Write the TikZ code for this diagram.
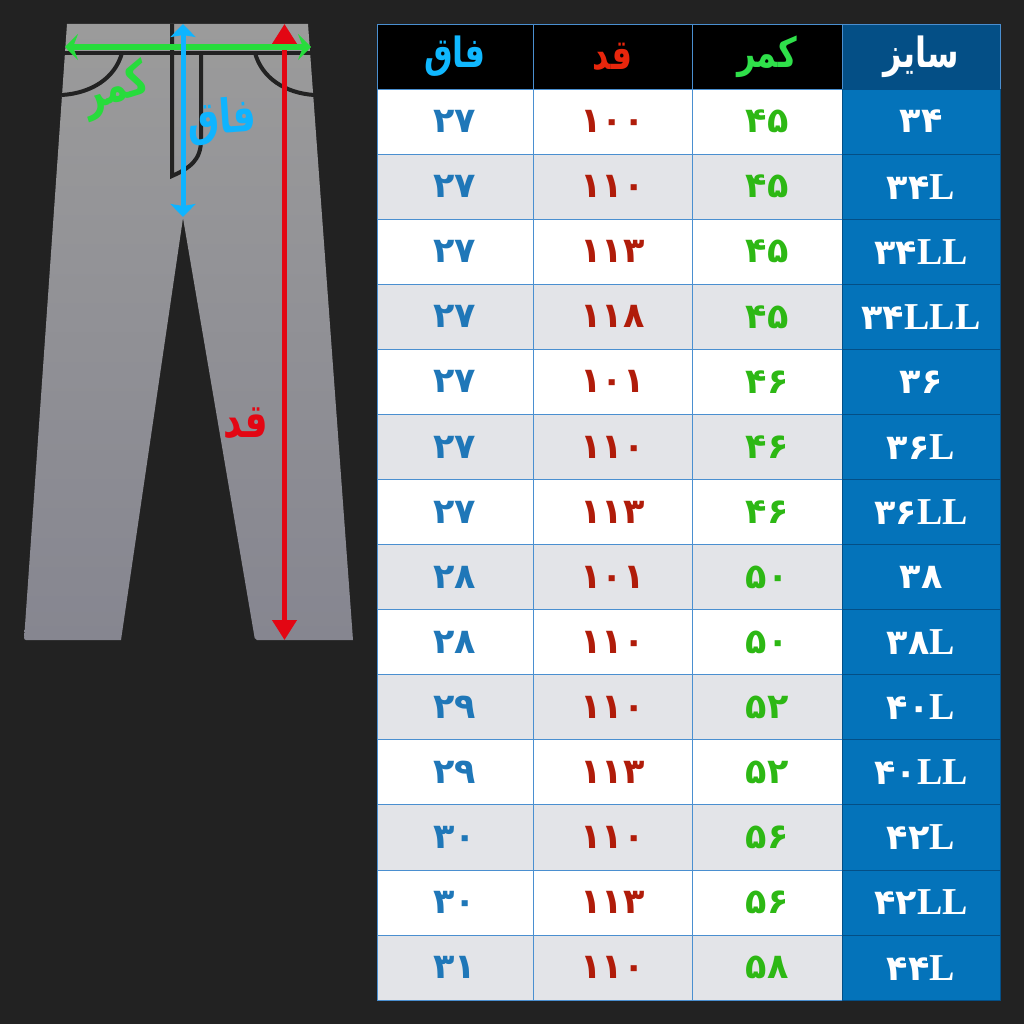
\documentclass[tikz,border=0pt]{standalone}
\usepackage{fontspec}
\usepackage{graphicx}
\usetikzlibrary{arrows.meta,calc}
\TeXXeTstate=1
\setmainfont{Liberation Serif}
\newfontfamily\arabicfont[Script=Arabic]{DejaVu Sans}
\definecolor{bgc}{HTML}{222222}
\definecolor{lineblue}{HTML}{4A8FD0}
\definecolor{sizeblue}{HTML}{0473BA}
\definecolor{headblue}{HTML}{044F86}
\definecolor{rowgray}{HTML}{E3E4E8}
\definecolor{valgreen}{HTML}{2DB814}
\definecolor{valred}{HTML}{B01C0A}
\definecolor{valblue}{HTML}{1F77B8}
\definecolor{hgreen}{HTML}{2FE04A}
\definecolor{hred}{HTML}{E8260C}
\definecolor{hblue}{HTML}{10B8FF}
\definecolor{mgreen}{HTML}{27DC3C}
\definecolor{mred}{HTML}{E30613}
\definecolor{mblue}{HTML}{0FB4FF}
\definecolor{pantstop}{HTML}{9B9B9B}
\definecolor{pantsbot}{HTML}{868690}
\tikzset{
  x=1pt,y=-1pt,
  cellbox/.style={draw=lineblue,line width=0.9pt,anchor=north west,inner sep=0pt,outer sep=0pt,font=\fontsize{35}{36}\selectfont\bfseries},
  hdrbox/.style={cellbox,fill=black,minimum height=65pt},
  sizebox/.style={cellbox,fill=sizeblue,text=white,draw=headblue},
  seam/.style={draw=bgc,line width=4pt},
  mlabel/.style={inner sep=0pt,font=\arabicfont\bfseries\fontsize{36}{38}\selectfont},
  hdrtext/.style={inner sep=0pt,font=\arabicfont\bfseries\fontsize{32}{34}\selectfont},
}
\newcommand{\fa}[1]{{\arabicfont\bfseries #1}}
\newcommand{\tallrt}[1]{\scalebox{1}[1.3]{\beginR #1\endR}}
\newcommand{\largeL}[1]{{\fontsize{38}{38}\selectfont #1}}
\begin{document}
\begin{tikzpicture}
\useasboundingbox (0,0) rectangle (1024,1024);
\fill[bgc] (0,0) rectangle (1024,1024);
% trousers
\shade[top color=pantstop,bottom color=pantsbot]
  (67,24) -- (308,24) -- (353,640) [rounded corners=2pt] -- (255,640) [sharp corners] -- (183,218) -- (121,640) [rounded corners=2pt] -- (24,640) [sharp corners] -- cycle;
\draw[seam] (62,53) -- (313,53);
\draw[seam] (122,53) .. controls (115,78) and (92,93) .. (62,95);
\draw[seam] (255,53) .. controls (262,78) and (285,93) .. (314,95);
\draw[seam,line join=miter] (172,24) -- (172,176) .. controls (190,168) and (201,160) .. (201,140) -- (201,53);
% measuring arrows
\coordinate (wl) at (65,47); \coordinate (wr) at (311,47);
\coordinate (ct) at (183,24); \coordinate (cb) at (183,217);
\coordinate (ht) at (284.5,24); \coordinate (hb) at (284.5,640);
\draw[mred,line width=4.2pt,{Triangle[width=24pt,length=20pt]}-{Triangle[width=24pt,length=20pt]}] (ht) -- (hb);
\draw[mgreen,line width=5.5pt,{Stealth[width=26pt,length=13pt,inset=5pt]}-{Stealth[width=26pt,length=13pt,inset=5pt]}] (wl) -- (wr);
\draw[mblue,line width=5pt,{Stealth[width=25pt,length=13pt,inset=2pt]}-{Stealth[width=25pt,length=13pt,inset=2pt]}] (ct) -- (cb);
\node[mlabel,text=mgreen,rotate=17] (lw) at (116,90) {\tallrt{کمر}};
\node[mlabel,text=mblue,rotate=4] (lc) at (222,121) {\tallrt{فاق}};
\node[mlabel,text=mred] (lh) at (246,423) {\tallrt{قد}};
% table
\def\xa{377}\def\xb{533}\def\xc{692}\def\xd{842}
\node[hdrbox,minimum width=156pt] (h1) at (\xa,24) {};
\node[hdrbox,minimum width=159pt] (h2) at (\xb,24) {};
\node[hdrbox,minimum width=150pt] (h3) at (\xc,24) {};
\node[hdrbox,minimum width=158pt,fill=headblue] (h4) at (\xd,24) {};
\node[hdrtext,text=hblue] (t1) at (h1.center) {\tallrt{فاق}};
\node[hdrtext,text=hred] (t2) at (h2.center) {\tallrt{قد}};
\node[hdrtext,text=hgreen] (t3) at (h3.center) {\tallrt{کمر}};
\node[hdrtext,text=white] (t4) at (h4.center) {\tallrt{سایز}};
\foreach \i/\f/\q/\k/\s/\l in {
 0/۲۷/۱۰۰/۴۵/۳۴/,
 1/۲۷/۱۱۰/۴۵/۳۴/L,
 2/۲۷/۱۱۳/۴۵/۳۴/LL,
 3/۲۷/۱۱۸/۴۵/۳۴/LLL,
 4/۲۷/۱۰۱/۴۶/۳۶/,
 5/۲۷/۱۱۰/۴۶/۳۶/L,
 6/۲۷/۱۱۳/۴۶/۳۶/LL,
 7/۲۸/۱۰۱/۵۰/۳۸/,
 8/۲۸/۱۱۰/۵۰/۳۸/L,
 9/۲۹/۱۱۰/۵۲/۴۰/L,
 10/۲۹/۱۱۳/۵۲/۴۰/LL,
 11/۳۰/۱۱۰/۵۶/۴۲/L,
 12/۳۰/۱۱۳/۵۶/۴۲/LL,
 13/۳۱/۱۱۰/۵۸/۴۴/L}{
  \pgfmathsetmacro\yy{89+\i*65.08}
  \pgfmathtruncatemacro\odd{mod(\i,2)}
  \ifnum\odd=1 \def\rowc{rowgray}\else\def\rowc{white}\fi
  \node[cellbox,fill=\rowc,text=valblue,minimum width=156pt,minimum height=65.08pt] (f\i) at (\xa,\yy) {\fa{\f}};
  \node[cellbox,fill=\rowc,text=valred,minimum width=159pt,minimum height=65.08pt] (q\i) at (\xb,\yy) {\fa{\q}};
  \node[cellbox,fill=\rowc,text=valgreen,minimum width=150pt,minimum height=65.08pt] (k\i) at (\xc,\yy) {\fa{\k}};
  \node[sizebox,minimum width=158pt,minimum height=65.08pt] (s\i) at (\xd,\yy) {\fa{\s}\largeL{\l}};
}
\end{tikzpicture}
\end{document}
